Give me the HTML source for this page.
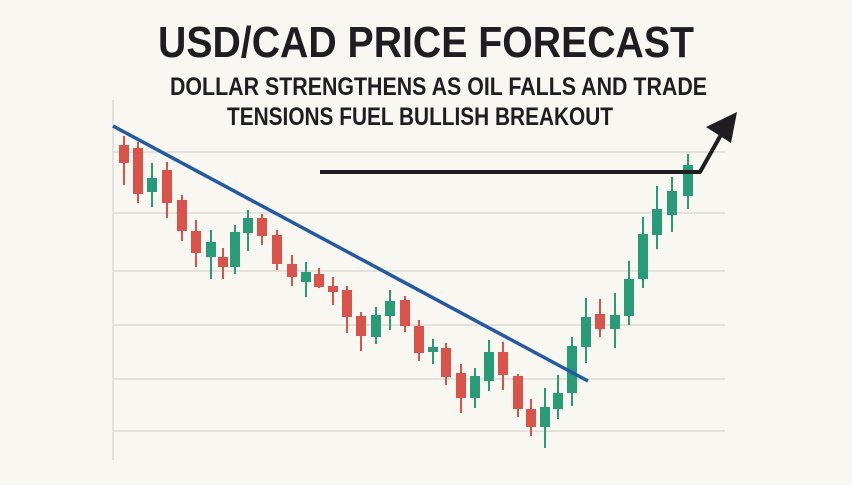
<!DOCTYPE html>
<html><head><meta charset="utf-8"><style>
html,body{margin:0;padding:0;background:#f9f7f2;}
svg{display:block;}
text{font-family:"Liberation Sans",sans-serif;font-weight:bold;fill:#1e1e22;}
.r line{stroke:#d9534a;stroke-width:2}.r rect{fill:#d9534a}
.g line{stroke:#2a9b78;stroke-width:2}.g rect{fill:#2a9b78}
</style></head><body>
<svg width="852" height="485" viewBox="0 0 852 485" xmlns="http://www.w3.org/2000/svg">
<rect width="852" height="485" fill="#f9f7f2"/>
<text x="158" y="57" font-size="44" textLength="536" lengthAdjust="spacingAndGlyphs">USD/CAD PRICE FORECAST</text>
<text x="170" y="95" font-size="25" textLength="537" lengthAdjust="spacingAndGlyphs">DOLLAR STRENGTHENS AS OIL FALLS AND TRADE</text>
<text x="227" y="125" font-size="25" textLength="386" lengthAdjust="spacingAndGlyphs">TENSIONS FUEL BULLISH BREAKOUT</text>
<g stroke="#dcdad5" stroke-width="1.5">
<line x1="114" y1="152" x2="725" y2="152"/><line x1="114" y1="213" x2="725" y2="213"/>
<line x1="114" y1="271" x2="725" y2="271"/><line x1="114" y1="325" x2="725" y2="325"/>
<line x1="114" y1="379" x2="725" y2="379"/><line x1="114" y1="431" x2="725" y2="431"/>
<line x1="113" y1="100" x2="113" y2="460"/>
</g>
<g class="r">
<line x1="124" y1="136" x2="124" y2="185"/><rect x="119" y="145" width="10" height="18"/>
<line x1="138" y1="142" x2="138" y2="203"/><rect x="133" y="148" width="10" height="46"/>
<line x1="167" y1="162" x2="167" y2="218"/><rect x="162" y="170" width="10" height="33"/>
<line x1="182" y1="195" x2="182" y2="241"/><rect x="177" y="200" width="10" height="31"/>
<line x1="196" y1="220" x2="196" y2="267"/><rect x="191" y="231" width="10" height="22"/>
<line x1="223" y1="248" x2="223" y2="279"/><rect x="218" y="257" width="10" height="10"/>
<line x1="262" y1="214" x2="262" y2="245"/><rect x="257" y="218" width="10" height="18"/>
<line x1="277" y1="230" x2="277" y2="270"/><rect x="272" y="235" width="10" height="29"/>
<line x1="292" y1="255" x2="292" y2="286"/><rect x="287" y="264" width="10" height="13"/>
<line x1="319" y1="268" x2="319" y2="288"/><rect x="314" y="274" width="10" height="13"/>
<line x1="333" y1="277" x2="333" y2="305"/><rect x="328" y="286" width="10" height="6"/>
<line x1="347" y1="286" x2="347" y2="333"/><rect x="342" y="290" width="10" height="27"/>
<line x1="361" y1="312" x2="361" y2="351"/><rect x="356" y="316" width="10" height="20"/>
<line x1="405" y1="296" x2="405" y2="332"/><rect x="400" y="300" width="10" height="26"/>
<line x1="419" y1="320" x2="419" y2="361"/><rect x="414" y="326" width="10" height="27"/>
<line x1="446" y1="343" x2="446" y2="385"/><rect x="441" y="348" width="10" height="29"/>
<line x1="461" y1="364" x2="461" y2="413"/><rect x="456" y="373" width="10" height="25"/>
<line x1="503" y1="342" x2="503" y2="390"/><rect x="498" y="352" width="10" height="23"/>
<line x1="518" y1="374" x2="518" y2="417"/><rect x="513" y="376" width="10" height="33"/>
<line x1="531" y1="399" x2="531" y2="436"/><rect x="526" y="409" width="10" height="18"/>
<line x1="600" y1="299" x2="600" y2="337"/><rect x="595" y="314" width="10" height="15"/>
</g>
<g class="g">
<line x1="152" y1="163" x2="152" y2="207"/><rect x="147" y="178" width="10" height="14"/>
<line x1="211" y1="230" x2="211" y2="279"/><rect x="206" y="242" width="10" height="15"/>
<line x1="235" y1="225" x2="235" y2="274"/><rect x="230" y="232" width="10" height="35"/>
<line x1="248" y1="210" x2="248" y2="251"/><rect x="243" y="218" width="10" height="15"/>
<line x1="306" y1="262" x2="306" y2="297"/><rect x="301" y="272" width="10" height="10"/>
<line x1="376" y1="307" x2="376" y2="344"/><rect x="371" y="315" width="10" height="22"/>
<line x1="390" y1="290" x2="390" y2="330"/><rect x="385" y="301" width="10" height="15"/>
<line x1="433" y1="339" x2="433" y2="364"/><rect x="428" y="347" width="10" height="5"/>
<line x1="475" y1="368" x2="475" y2="408"/><rect x="470" y="376" width="10" height="22"/>
<line x1="489" y1="340" x2="489" y2="391"/><rect x="484" y="352" width="10" height="29"/>
<line x1="545" y1="388" x2="545" y2="448"/><rect x="540" y="407" width="10" height="20"/>
<line x1="558" y1="375" x2="558" y2="419"/><rect x="553" y="393" width="10" height="16"/>
<line x1="572" y1="337" x2="572" y2="406"/><rect x="567" y="346" width="10" height="47"/>
<line x1="586" y1="298" x2="586" y2="363"/><rect x="581" y="317" width="10" height="30"/>
<line x1="615" y1="293" x2="615" y2="348"/><rect x="610" y="315" width="10" height="14"/>
<line x1="629" y1="261" x2="629" y2="325"/><rect x="624" y="279" width="10" height="37"/>
<line x1="643" y1="217" x2="643" y2="288"/><rect x="638" y="234" width="10" height="45"/>
<line x1="657" y1="186" x2="657" y2="249"/><rect x="652" y="209" width="10" height="26"/>
<line x1="672" y1="177" x2="672" y2="232"/><rect x="667" y="191" width="10" height="24"/>
<line x1="688" y1="154" x2="688" y2="209"/><rect x="683" y="165" width="10" height="31"/>
</g>
<line x1="113" y1="126" x2="588" y2="381" stroke="#2459a6" stroke-width="3.5"/>
<polyline points="320,172 700,172 722,133" fill="none" stroke="#1e1e22" stroke-width="4" stroke-linejoin="round"/>
<polygon points="737,112 706,127 731,143" fill="#1e1e22"/>
</svg>
</body></html>
